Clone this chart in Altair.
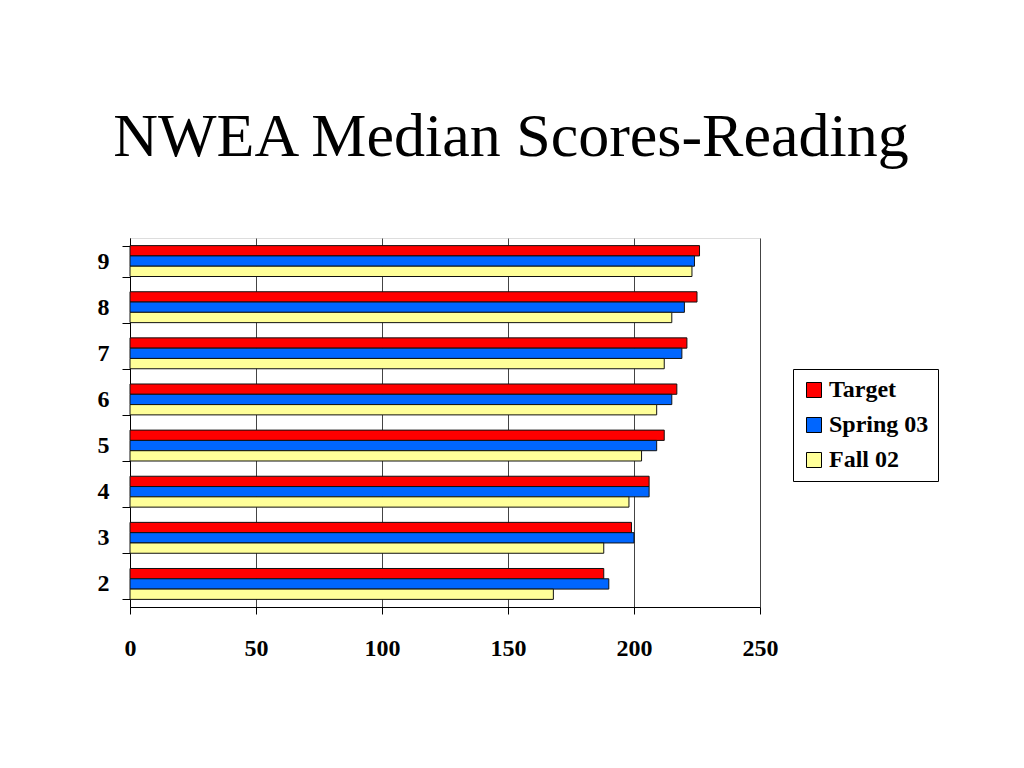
import altair as alt
import pandas as pd

grades = ["9", "8", "7", "6", "5", "4", "3", "2"]
target = [226, 225, 221, 217, 212, 206, 199, 188]
spring03 = [224, 220, 219, 215, 209, 206, 200, 190]
fall02 = [223, 215, 212, 209, 203, 198, 188, 168]
series = ["Target", "Spring 03", "Fall 02"]
colors = ["#FF0000", "#0066FF", "#FFFF99"]

rows = []
for i, g in enumerate(grades):
    for s, vals in zip(series, [target, spring03, fall02]):
        rows.append({"grade": g, "series": s, "score": vals[i]})
df = pd.DataFrame(rows)

FONT = "Liberation Serif"

chart = alt.Chart(df).mark_bar(stroke="#111111", strokeWidth=1).encode(
    y=alt.Y("grade:N", sort=grades, title=None,
            scale=alt.Scale(paddingInner=0.33, paddingOuter=0.165),
            axis=alt.Axis(tickBand="extent", labelAngle=0, labelFont=FONT,
                          labelFontWeight="bold", labelFontSize=24, labelColor="black",
                          tickColor="black", domainColor="black", tickSize=8,
                          labelPadding=13, grid=False)),
    yOffset=alt.YOffset("series:N", sort=series),
    x=alt.X("score:Q", title=None,
            scale=alt.Scale(domain=[0, 250], nice=False),
            axis=alt.Axis(values=[0, 50, 100, 150, 200, 250], labelFont=FONT,
                          labelFontWeight="bold", labelFontSize=24, labelColor="black",
                          labelFlush=False,
                          tickColor="black", domainColor="black", tickSize=7,
                          labelPadding=22, grid=True, gridColor="#444444",
                          gridOpacity=1, gridWidth=1)),
    color=alt.Color("series:N", sort=series,
                    scale=alt.Scale(domain=series, range=colors),
                    legend=alt.Legend(title=None, orient="none", legendX=663, legendY=131,
                                      strokeColor="black", fillColor="white",
                                      padding=9, symbolType="square", symbolSize=225,
                                      symbolStrokeColor="black", symbolStrokeWidth=1,
                                      labelFont=FONT, labelFontWeight="bold",
                                      labelFontSize=24, labelColor="black",
                                      rowPadding=11, labelOffset=3)),
).properties(
    width=630,
    height=369,
    title=alt.TitleParams("NWEA Median Scores-Reading", font=FONT, fontSize=62,
                          fontWeight="normal", color="black", anchor="middle",
                          frame="group", dx=66, offset=57),
    padding={"left": 122, "top": 230, "right": 250, "bottom": 150},
    autosize=alt.AutoSizeParams(type="none"),
).configure_view(stroke="black", strokeWidth=1).configure(background="white")

chart.save("out.html", embed_options={"renderer": "svg", "actions": False})
